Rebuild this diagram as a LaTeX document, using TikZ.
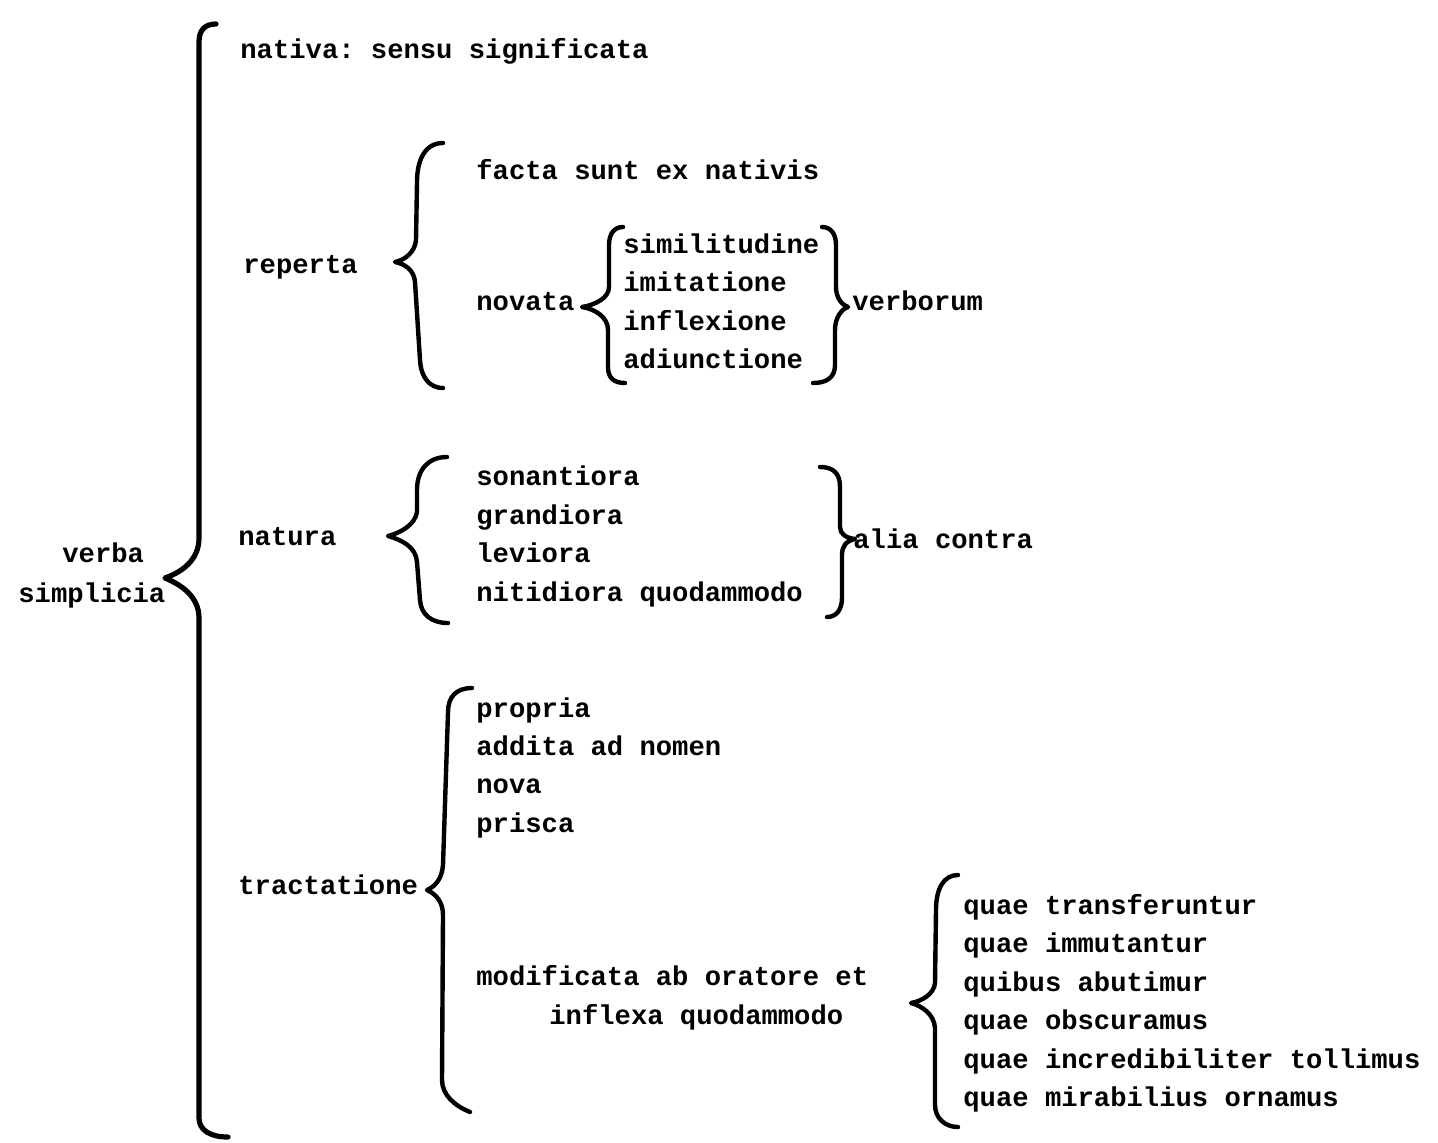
\documentclass[tikz,border=0pt]{standalone}
\usepackage{fontspec}
\setmonofont{Liberation Mono}
\begin{document}
\begin{tikzpicture}[x=0.5pt,y=-0.5pt,
  lbl/.style={anchor=base west,inner sep=0pt,font=\ttfamily\bfseries\fontsize{13.6}{16}\selectfont},
  bigbrace/.style={line width=2.6pt,line cap=round,line join=round},
  brace/.style={line width=2.2pt,line cap=round,line join=round}]
\useasboundingbox[fill=white] (0,0) rectangle (1438,1142);

% root
\node[lbl] (verba) at (62,562) {verba};
\node[lbl] (simplicia) at (18,602) {simplicia};
\draw[bigbrace] (216,24) .. controls (205,24) and (199,30) .. (199,42)
  -- (199,538) .. controls (199,560) and (182,572) .. (165,578)
  .. controls (182,585) and (199,597) .. (199,618)
  -- (199,1118) .. controls (199,1130) and (210,1137) .. (228,1137);

% first level
\node[lbl] (nativa) at (240,58) {nativa: sensu significata};
\node[lbl] (reperta) at (243,273) {reperta};
\node[lbl] (natura) at (238,545) {natura};
\node[lbl] (tractatione) at (238,894) {tractatione};

% reperta
\draw[brace] (443,143) .. controls (425,143) and (417,160) .. (417,182)
  -- (416,240) .. controls (415,252) and (405,260) .. (395,262)
  .. controls (405,264) and (414,270) .. (415,282)
  -- (420,360) .. controls (421,378) and (430,388) .. (443,388);
\node[lbl] (facta) at (476,179) {facta sunt ex nativis};
\node[lbl] (novata) at (476,310) {novata};

% novata
\draw[brace] (623,227) .. controls (614,227) and (609,234) .. (609,245)
  -- (609,287) .. controls (609,298) and (595,305) .. (582,307)
  .. controls (595,309) and (608,317) .. (608,330)
  -- (608,367) .. controls (608,378) and (614,383) .. (625,383);
\node[lbl] (simil) at (623,253) {similitudine};
\node[lbl] (imit) at (623,291.5) {imitatione};
\node[lbl] (infl) at (623,330) {inflexione};
\node[lbl] (adiu) at (623,368.5) {adiunctione};
\draw[brace] (822,227) .. controls (831,227) and (836,234) .. (836,245)
  -- (836,287) .. controls (836,298) and (842,305) .. (848,307)
  .. controls (842,309) and (835,317) .. (835,330)
  -- (835,365) .. controls (835,378) and (826,383) .. (813,383);
\node[lbl] (verborum) at (852,310) {verborum};

% natura
\draw[brace] (447,457) .. controls (428,457) and (417,470) .. (417,490)
  -- (417,512) .. controls (415,525) and (400,533) .. (388,536)
  .. controls (402,540) and (416,547) .. (417,562)
  -- (420,600) .. controls (421,615) and (432,623) .. (448,623);
\node[lbl] (sonan) at (476,485) {sonantiora};
\node[lbl] (grand) at (476,524) {grandiora};
\node[lbl] (levi) at (476,562) {leviora};
\node[lbl] (nitid) at (476,601) {nitidiora quodammodo};
\draw[brace] (820,467) .. controls (833,467) and (840,473) .. (840,487)
  -- (840,527) .. controls (840,534) and (846,538) .. (855,539)
  .. controls (846,541) and (842,546) .. (842,555)
  -- (842,598) .. controls (842,610) and (836,617) .. (827,617);
\node[lbl] (alia) at (853,548) {alia contra};

% tractatione
\draw[brace] (472,688) .. controls (456,688) and (448,697) .. (448,712)
  -- (443,865) .. controls (442,878) and (436,886) .. (427,890)
  .. controls (436,894) and (443,902) .. (443,915)
  -- (442,1080) .. controls (442,1095) and (455,1106) .. (470,1112);
\node[lbl] (propria) at (476,717) {propria};
\node[lbl] (addita) at (476,755) {addita ad nomen};
\node[lbl] (nova) at (476,793.5) {nova};
\node[lbl] (prisca) at (476,832) {prisca};
\node[lbl] (modif) at (476,985) {modificata ab oratore et};
\node[lbl] (inflexa) at (549,1024) {inflexa quodammodo};

% modificata
\draw[brace] (958,875) .. controls (944,875) and (936,888) .. (936,910)
  -- (935,983) .. controls (934,994) and (922,1001) .. (911,1003)
  .. controls (922,1006) and (934,1014) .. (935,1028)
  -- (935,1105) .. controls (935,1118) and (945,1127) .. (958,1127);
\node[lbl] (q1) at (963,914) {quae transferuntur};
\node[lbl] (q2) at (963,952.5) {quae immutantur};
\node[lbl] (q3) at (963,991) {quibus abutimur};
\node[lbl] (q4) at (963,1029.5) {quae obscuramus};
\node[lbl] (q5) at (963,1068) {quae incredibiliter tollimus};
\node[lbl] (q6) at (963,1106.5) {quae mirabilius ornamus};
\end{tikzpicture}
\end{document}
